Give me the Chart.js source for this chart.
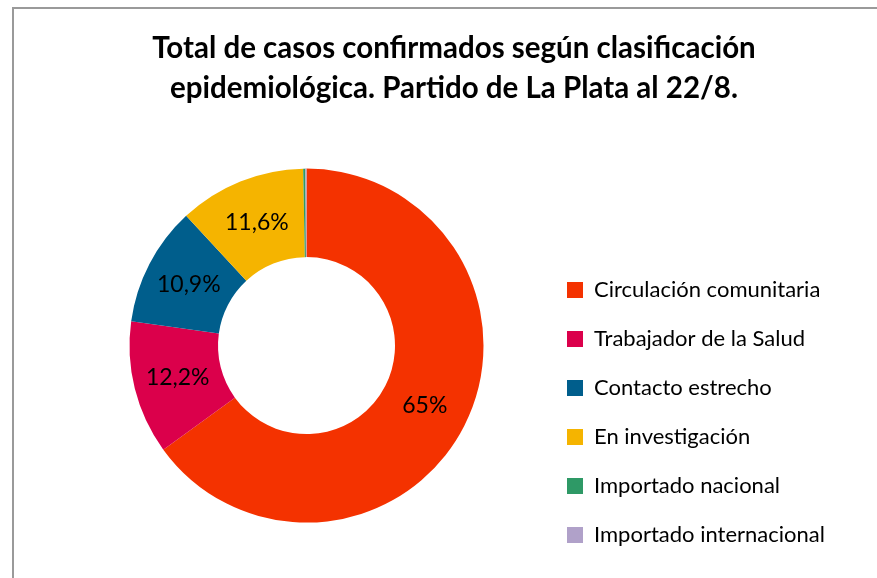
<!DOCTYPE html>
<html>
<head>
<meta charset="utf-8">
<script src="https://cdn.jsdelivr.net/npm/chart.js@4/dist/chart.umd.min.js"></script>
<style>
  html, body { margin: 0; padding: 0; background: #ffffff; overflow: hidden; }
  #frame { position: absolute; left: 12px; top: 7px; width: 2000px; height: 2000px;
           border-left: 2px solid #9a9a9a; border-top: 2px solid #9a9a9a; }
  #c { position: absolute; left: 0; top: 0; }
</style>
</head>
<body>
<div id="frame"></div>
<canvas id="c" width="877" height="578"></canvas>
<script>
// ---- data ----
const categories = [
  'Circulación comunitaria',
  'Trabajador de la Salud',
  'Contacto estrecho',
  'En investigación',
  'Importado nacional',
  'Importado internacional'
];
const percentValues = [65, 12.2, 10.9, 11.6, 0.2, 0.1];
const sliceColors = ['#F43200', '#DB004B', '#005E8C', '#F5B400', '#2E9966', '#B0A1C9'];
const chartTitle = ['Total de casos confirmados según clasificación', 'epidemiológica. Partido de La Plata al 22/8.'];

// ---- layout helpers ----
const legendFont = { family: 'Lato', size: 22 };
const labelFont = { family: 'Lato', size: 23 };
const legendPadding = 27;
const legendBoxX = 567;       // desired x of legend squares
const chartCenterX = 306.5;

const mctx = document.createElement('canvas').getContext('2d');
mctx.font = legendFont.size + 'px ' + legendFont.family;
let maxTextW = 0;
categories.forEach(t => { maxTextW = Math.max(maxTextW, mctx.measureText(t).width); });
const itemW = 16 + legendFont.size / 2 + maxTextW;
const legendLeft = legendBoxX - legendPadding;
const legendWidth = legendPadding + itemW + 10;
const padRight = 877 - legendLeft - legendWidth;
const padLeft = 2 * chartCenterX - legendLeft;

const dataLabels = {
  id: 'dataLabels',
  afterDatasetsDraw(chart) {
    const ctx = chart.ctx;
    const meta = chart.getDatasetMeta(0);
    ctx.save();
    ctx.font = labelFont.size + 'px ' + labelFont.family;
    ctx.fillStyle = '#000000';
    ctx.textAlign = 'center';
    ctx.textBaseline = 'middle';
    meta.data.forEach((arc, i) => {
      const v = percentValues[i];
      if (v < 1) return;
      const p = arc.tooltipPosition();
      ctx.fillText(String(v).replace('.', ',') + '%', p.x, p.y);
    });
    ctx.restore();
  }
};

new Chart(document.getElementById('c'), {
  type: 'doughnut',
  data: {
    labels: categories,
    datasets: [{
      data: percentValues,
      backgroundColor: sliceColors,
      borderWidth: 0,
      radius: 177,
      cutout: '50%'
    }]
  },
  options: {
    responsive: false,
    animation: false,
    layout: { padding: { top: 0, bottom: 5, left: padLeft, right: padRight } },
    plugins: {
      title: {
        display: true,
        text: chartTitle,
        color: '#000000',
        font: { family: 'Lato', size: 29.5, weight: 'bold', lineHeight: 1.36 },
        padding: { top: 28, bottom: 10 }
      },
      legend: {
        position: 'right',
        align: 'end',
        labels: {
          font: legendFont,
          color: '#000000',
          boxWidth: 16,
          boxHeight: 16,
          padding: legendPadding
        }
      },
      tooltip: { enabled: false }
    }
  },
  plugins: [dataLabels]
});
</script>
</body>
</html>
